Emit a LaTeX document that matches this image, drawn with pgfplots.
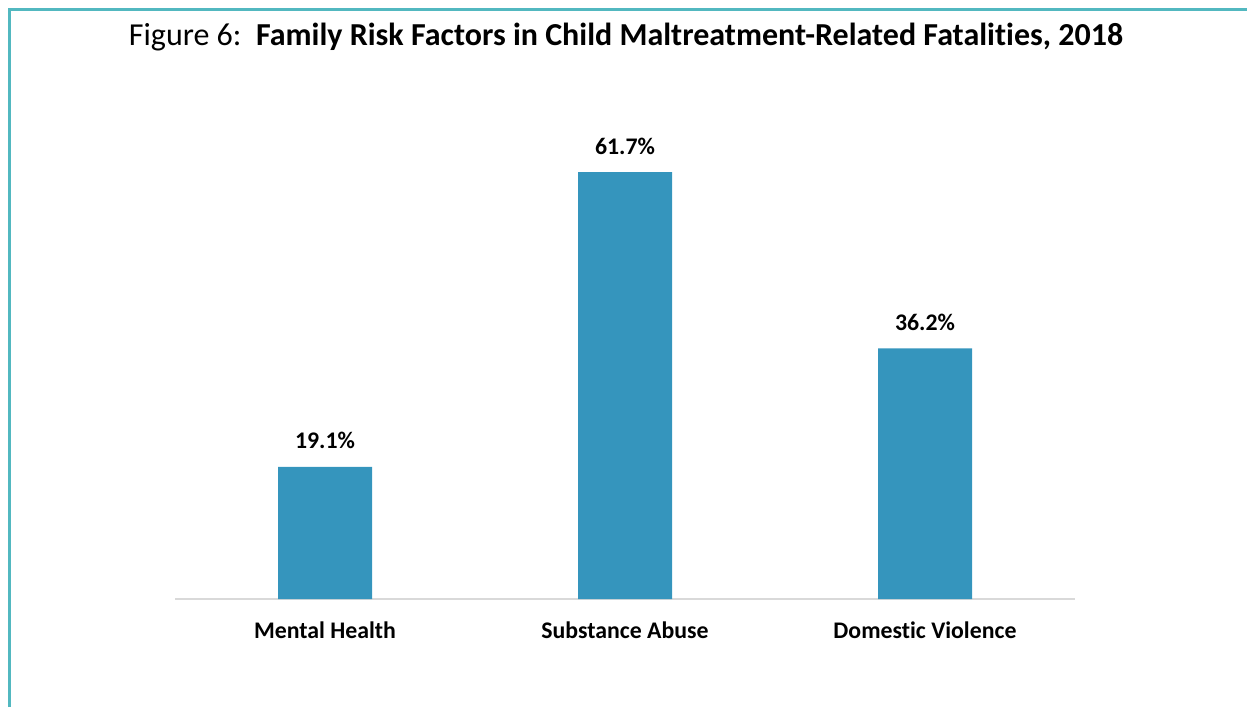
\documentclass[border=0pt]{standalone}
\usepackage{pgfplots}
\pgfplotsset{compat=1.18}
\usepackage{fontspec}
\setmainfont{Carlito}[Ligatures=NoCommon]
\definecolor{barblue}{RGB}{53,149,189}
\definecolor{frameteal}{RGB}{82,184,192}
\definecolor{axisgray}{RGB}{217,217,217}

\begin{document}
\begin{tikzpicture}
  \path[use as bounding box] (0,0) rectangle (1247pt,707pt);
  % frame: only the top and left edges show in the crop
  \draw[frameteal, line width=2.6pt] (9.5pt,0) -- (9.5pt,697.5pt) -- (1247pt,697.5pt);
  \node[anchor=base, inner sep=0pt, font=\fontsize{32}{36}\selectfont] at (626pt,661pt)
    {Figure 6:\ \ \textbf{Family Risk Factors in Child Maltreatment-Related Fatalities, 2018}};
  \begin{axis}[
      at={(175pt,108pt)},
      anchor=south west,
      scale only axis,
      width=900pt,
      height=484.4pt,
      xmin=-0.5, xmax=2.5,
      ymin=0, ymax=70,
      axis x line=bottom,
      axis y line=none,
      axis line style={axisgray, line width=1.5pt, -},
      xtick=data,
      xticklabels={Mental Health, Substance Abuse, Domestic Violence},
      major tick length=0pt,
      xticklabel style={font=\fontsize{23.8}{28}\selectfont\bfseries, anchor=base, yshift=-39pt, inner sep=0pt},
      ytick=\empty,
      ybar,
      bar width=94pt,
      nodes near coords={\pgfmathprintnumber[fixed, fixed zerofill, precision=1]{\pgfplotspointmeta}\%},
      nodes near coords style={font=\fontsize{23.8}{28}\selectfont\bfseries, anchor=base, yshift=18pt, inner sep=0pt},
      /pgf/number format/assume math mode=true,
      clip=false,
    ]
    \addplot[fill=barblue, draw=none] coordinates {(0,19.1) (1,61.7) (2,36.2)};
  \end{axis}
\end{tikzpicture}
\end{document}
